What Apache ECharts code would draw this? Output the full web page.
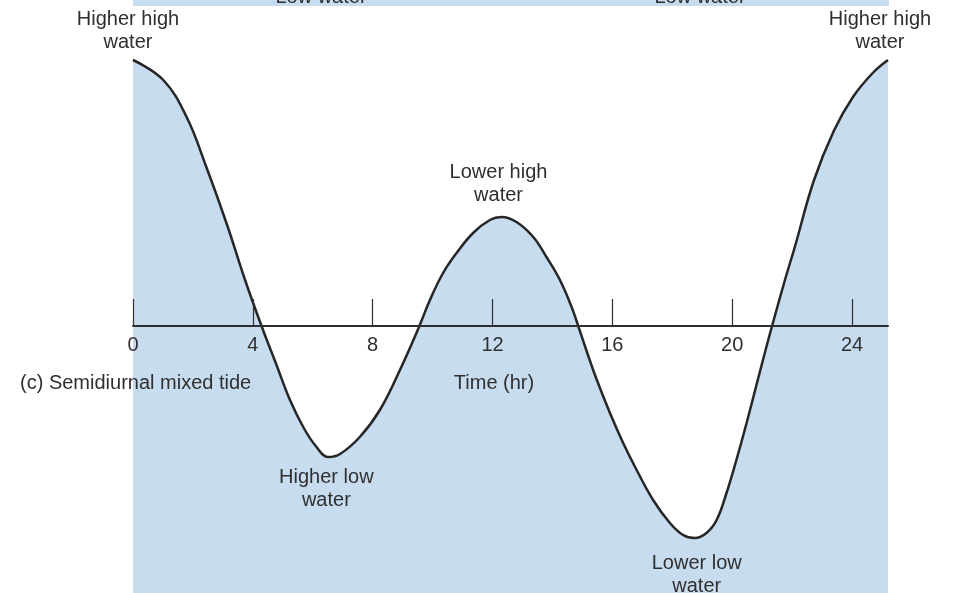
<!DOCTYPE html>
<html>
<head>
<meta charset="utf-8">
<script src="https://cdn.jsdelivr.net/npm/echarts@6/dist/echarts.min.js"></script>
<style>
  html, body { margin: 0; padding: 0; background: #ffffff; }
  #chart { width: 953px; height: 593px; }
</style>
</head>
<body>
<div id="chart"></div>
<script>
// Tide height over one day (arbitrary height units, 0 = mean water level)
const hours = [0, 1.01, 1.79, 2.46, 3.13, 3.74, 4.29, 4.79, 5.24, 5.7, 6.1, 6.52, 6.91, 7.57, 8.24, 8.91,
  9.56, 9.91, 10.35, 10.8, 11.35, 11.91, 12.3, 12.8, 13.36, 13.8, 14.25, 14.64, 14.86, 15.14, 15.47,
  15.92, 16.36, 16.81, 17.36, 17.92, 18.36, 18.75, 19.14, 19.48, 19.81, 20.14, 20.48, 20.81, 21.14,
  21.33, 21.76, 22.09, 22.72, 23.39, 24.03, 24.69, 25.2];
const level = [2.66, 2.46, 2.09, 1.58, 1.02, 0.46, 0, -0.39, -0.74, -1.02, -1.2, -1.31, -1.28, -1.11, -0.84, -0.44,
  0, 0.26, 0.53, 0.73, 0.93, 1.06, 1.09, 1.04, 0.89, 0.69, 0.46, 0.19, 0, -0.25, -0.53,
  -0.87, -1.17, -1.44, -1.74, -1.97, -2.09, -2.12, -2.07, -1.94, -1.67, -1.34, -0.97, -0.59, -0.21,
  0, 0.46, 0.79, 1.45, 1.95, 2.29, 2.53, 2.66];

// Highs and lows of the mixed tide
const extremeHours = [0, 6.52, 12.3, 18.75, 25.2];
const extremeLevels = [2.66, -1.31, 1.09, -2.12, 2.66];
const extremeNames = ['Higher high\nwater', 'Higher low\nwater', 'Lower high\nwater', 'Lower low\nwater', 'Higher high\nwater'];

// Time axis ticks (hours)
const tickHours = [0, 4, 8, 12, 16, 20, 24];

const FONT = '"Liberation Sans", Arial, sans-serif';
const INK = '#2f2f2f';
const SEA = '#c8dcf0';
const FS = 20;

// Where each extreme's label sits relative to its point
const labelPlacement = [
  { position: 'top', distance: 6, offset: [-5, 0] },
  { position: 'bottom', distance: 9, offset: [-2, 0] },
  { position: 'top', distance: 10, offset: [-3, 0] },
  { position: 'bottom', distance: 14, offset: [2, 0] },
  { position: 'top', distance: 6, offset: [-8, 0] }
];

const chart = echarts.init(document.getElementById('chart'), null, { renderer: 'canvas' });

const LEFT = 133, RIGHT = 65;
const Y_MIN = -2.67, Y_MAX = 3.26;
const H = 593;
// pixel row of the zero level
const zeroY = Math.round(H * Y_MAX / (Y_MAX - Y_MIN));

chart.setOption({
  animation: false,
  backgroundColor: '#ffffff',
  grid: [
    // plotting area for the tide curve
    { left: LEFT, right: RIGHT, top: 0, bottom: 0, containLabel: false, outerBoundsMode: 'none' },
    // time axis drawn along the zero level
    { left: LEFT, right: RIGHT, top: 0, height: zeroY, containLabel: false, outerBoundsMode: 'none' }
  ],
  xAxis: [
    { gridIndex: 0, type: 'value', min: 0, max: 25.2, show: false, splitLine: { show: false } },
    {
      gridIndex: 1,
      type: 'value',
      min: 0,
      max: 25.2,
      interval: 4,
      position: 'bottom',
      splitLine: { show: false },
      axisLine: { show: true, onZero: false, lineStyle: { color: INK, width: 2 } },
      axisTick: { show: true, inside: true, length: 27, customValues: tickHours,
        lineStyle: { color: INK, width: 1.2 } },
      axisLabel: { show: true, margin: 9, customValues: tickHours, color: INK,
        fontFamily: FONT, fontSize: FS },
      z: 5
    }
  ],
  yAxis: [
    { gridIndex: 0, type: 'value', min: Y_MIN, max: Y_MAX, show: false, splitLine: { show: false } },
    { gridIndex: 1, type: 'value', min: 0, max: 1, show: false, splitLine: { show: false } }
  ],
  graphic: [
    // strip of the panel above
    { type: 'rect', z: 100, shape: { x: 133, y: 0, width: 756, height: 6 }, style: { fill: SEA } },
    { type: 'text', z: 101, style: { text: 'Low water', x: 321, y: 7, textAlign: 'center', textVerticalAlign: 'bottom',
      fill: INK, font: FS + 'px ' + FONT } },
    { type: 'text', z: 101, style: { text: 'Low water', x: 700, y: 7, textAlign: 'center', textVerticalAlign: 'bottom',
      fill: INK, font: FS + 'px ' + FONT } },
    { type: 'text', z: 101, style: { text: 'Time (hr)', x: 494, y: 383, textAlign: 'center', textVerticalAlign: 'middle',
      fill: INK, font: FS + 'px ' + FONT } },
    { type: 'text', z: 101, style: { text: '(c) Semidiurnal mixed tide', x: 20, y: 383, textAlign: 'left', textVerticalAlign: 'middle',
      fill: INK, font: FS + 'px ' + FONT } }
  ],
  series: [
    {
      type: 'line',
      xAxisIndex: 0,
      yAxisIndex: 0,
      data: hours.map((h, i) => [h, level[i]]),
      smooth: 0.4,
      showSymbol: false,
      lineStyle: { color: '#262626', width: 2.5 },
      areaStyle: { color: SEA, opacity: 1, origin: 'start' },
      z: 1
    },
    {
      type: 'scatter',
      xAxisIndex: 0,
      yAxisIndex: 0,
      symbolSize: 0.1,
      itemStyle: { color: INK, opacity: 1 },
      emphasis: { disabled: true },
      data: extremeHours.map((h, i) => ({
        value: [h, extremeLevels[i]],
        label: Object.assign({
          show: true,
          formatter: extremeNames[i],
          color: INK,
          fontFamily: FONT,
          fontSize: FS,
          lineHeight: 23,
          align: 'center'
        }, labelPlacement[i])
      })),
      z: 3
    }
  ]
});
</script>
</body>
</html>
